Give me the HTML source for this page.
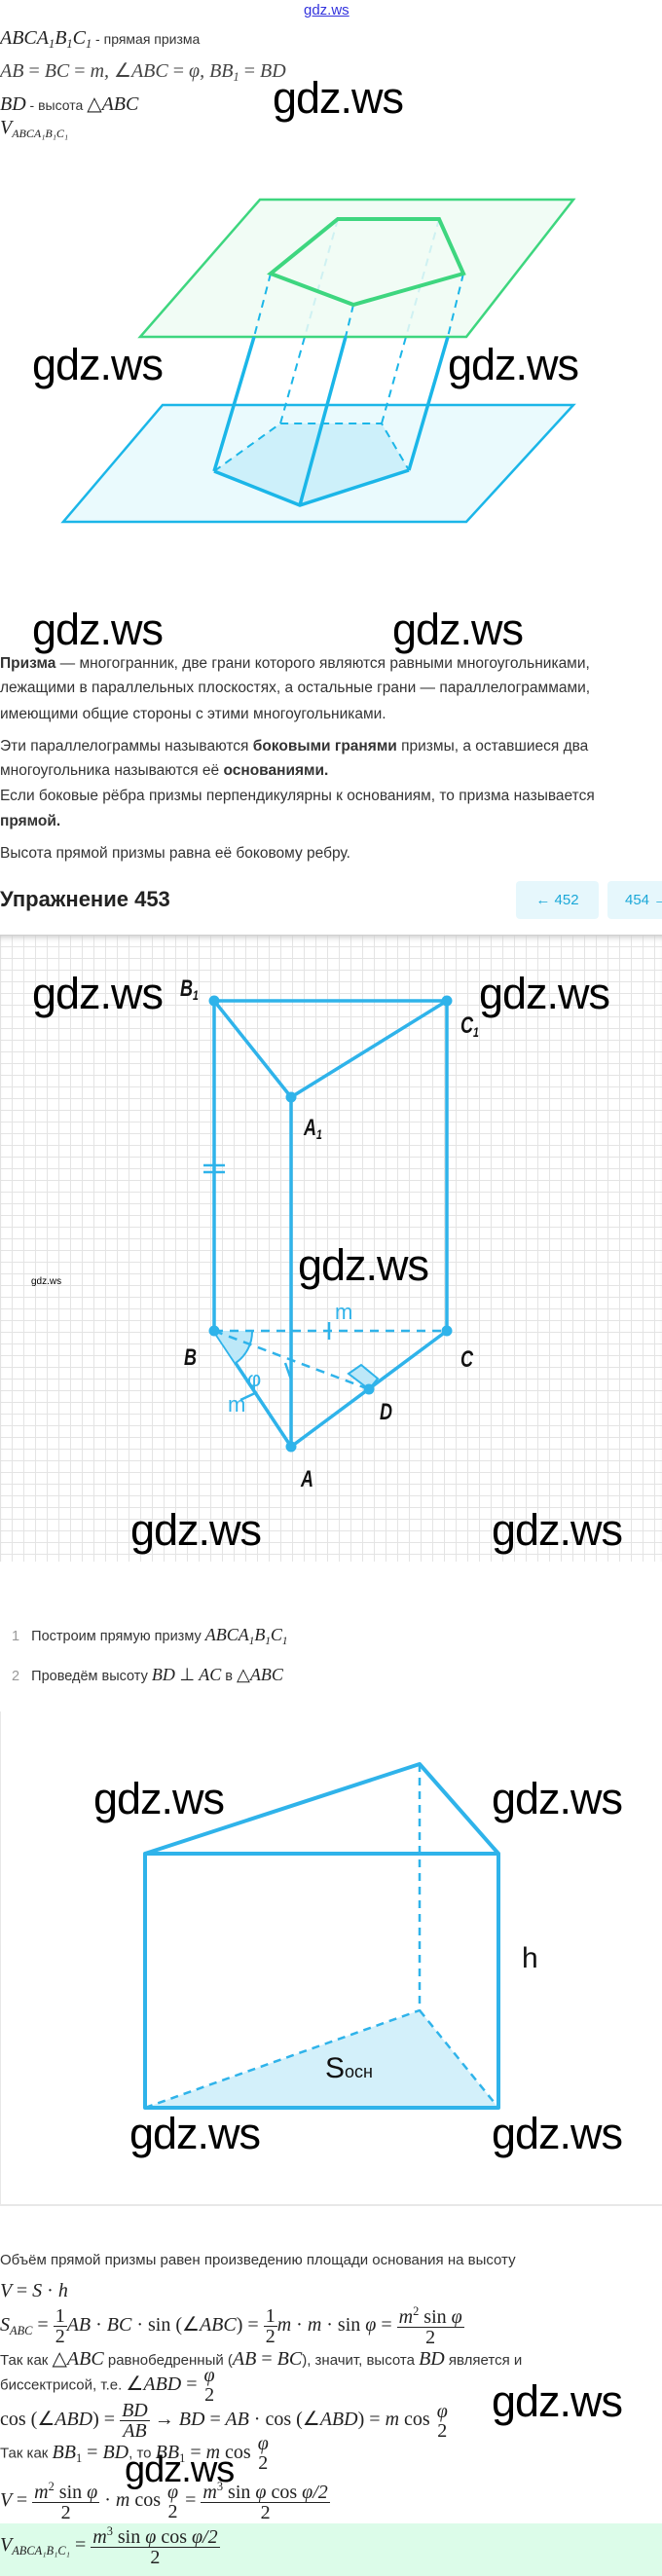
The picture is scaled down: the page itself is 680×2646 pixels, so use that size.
<!DOCTYPE html>
<html><head><meta charset="utf-8">
<style>
*{margin:0;padding:0;box-sizing:border-box}
body{width:680px;height:2646px;position:relative;background:#fff;overflow:hidden;font-family:"Liberation Sans","DejaVu Sans",sans-serif;color:#333}
.a{position:absolute;white-space:nowrap}
.m{font-family:"Liberation Serif",serif;font-style:italic;font-size:20px;color:#222}
.r{font-style:normal}
.t{font-size:15.5px;color:#333}
.w{position:absolute;font-family:"Liberation Sans",sans-serif;font-size:45px;color:#000;line-height:1;white-space:nowrap;letter-spacing:-1px}
sub{font-size:62%;vertical-align:-4px}
sup{font-size:62%;vertical-align:8px}
.f{display:inline-block;vertical-align:middle;text-align:center;line-height:1}
.f>span{display:block;padding:0 2px}
.f>span:first-child{border-bottom:1px solid #222}
.lbl{position:absolute;font-family:"Liberation Sans",sans-serif;font-style:italic;font-weight:bold;font-size:24px;color:#111;transform:scaleX(0.75);transform-origin:left}
</style></head><body>

<div class="a" style="left:312px;top:2px;font-size:15px;color:#3333dd;text-decoration:underline">gdz.ws</div>

<div class="a" style="left:0;top:28px"><span class="m">ABCA<sub>1</sub>B<sub>1</sub>C<sub>1</sub></span><span class="t" style="font-size:14px"> - прямая призма</span></div>
<div class="a m" style="left:0;top:60px;color:#444">AB <span class="r">=</span> BC <span class="r">=</span> m, <span class="r">∠</span>ABC <span class="r">=</span> φ, BB<sub>1</sub> <span class="r">=</span> BD</div>
<div class="a" style="left:0;top:94px"><span class="m">BD</span><span class="t" style="font-size:14px"> - высота </span><span class="m"><span class="r">△</span>ABC</span></div>
<div class="a m" style="left:0;top:120px">V<sub style="font-size:12px">ABCA₁B₁C₁</sub></div>
<div class="w" style="left:280px;top:78px">gdz.ws</div>

<svg class="a" style="left:0;top:0" width="680" height="560">
<polygon points="167,416 589,416 479,536 65,536" fill="#eafafd" stroke="#1bb6e8" stroke-width="2.5"/>
<polygon points="220,484 308,519 420,483 392,435 288,435" fill="#cdf0fa"/>
<g stroke="#1bb6e8" stroke-width="2" stroke-dasharray="8,6" fill="none">
<polyline points="220,484 288,435 392,435 420,483"/>
<line x1="288" y1="435" x2="347" y2="225"/>
<line x1="392" y1="435" x2="451" y2="225"/>
</g>
<polygon points="267,205 589,205 479,346 144,346" fill="#effcf3" fill-opacity="0.85" stroke="#3ed67f" stroke-width="2.5"/>
<g stroke="#1bb6e8" stroke-width="2" stroke-dasharray="8,6">
<line x1="278" y1="281" x2="261" y2="346"/>
<line x1="363" y1="313" x2="355" y2="346"/>
<line x1="476" y1="281" x2="460" y2="346"/>
</g>
<g stroke="#1bb6e8" stroke-width="3.5" fill="none">
<line x1="261" y1="346" x2="220" y2="484"/>
<line x1="355" y1="346" x2="308" y2="519"/>
<line x1="460" y1="346" x2="420" y2="483"/>
<polyline points="220,484 308,519 420,483"/>
</g>
<polygon points="347,225 451,225 476,281 363,313 278,281" fill="none" stroke="#3ed67f" stroke-width="4"/>
</svg>
<div class="w" style="left:33px;top:352px">gdz.ws</div>
<div class="w" style="left:460px;top:352px">gdz.ws</div>
<div class="w" style="left:33px;top:624px">gdz.ws</div>
<div class="w" style="left:403px;top:624px">gdz.ws</div>

<div class="a t" style="left:0;top:673px"><b>Призма</b> — многогранник, две грани которого являются равными многоугольниками,</div>
<div class="a t" style="left:0;top:698px">лежащими в параллельных плоскостях, а остальные грани — параллелограммами,</div>
<div class="a t" style="left:0;top:725px">имеющими общие стороны с этими многоугольниками.</div>
<div class="a t" style="left:0;top:758px">Эти параллелограммы называются <b>боковыми гранями</b> призмы, а оставшиеся два</div>
<div class="a t" style="left:0;top:783px">многоугольника называются её <b>основаниями.</b></div>
<div class="a t" style="left:0;top:809px">Если боковые рёбра призмы перпендикулярны к основаниям, то призма называется</div>
<div class="a t" style="left:0;top:835px"><b>прямой.</b></div>
<div class="a t" style="left:0;top:868px">Высота прямой призмы равна её боковому ребру.</div>

<div class="a" style="left:0;top:911px;font-size:22px;font-weight:bold;color:#222">Упражнение 453</div>
<div class="a" style="left:530px;top:905px;width:85px;height:39px;background:#e6f7fc;border-radius:4px;color:#1ba8d8;font-size:15px;line-height:39px;text-align:center">← 452</div>
<div class="a" style="left:624px;top:905px;width:70px;height:39px;background:#e6f7fc;border-radius:4px;color:#1ba8d8;font-size:15px;line-height:39px;padding-left:18px">454 →</div>

<div class="a" style="left:0;top:960px;width:680px;height:644px;background-color:#fff;background-image:linear-gradient(#e4e4e4 1px,transparent 1px),linear-gradient(90deg,#e4e4e4 1px,transparent 1px);background-size:12px 12px;box-shadow:inset 0 6px 6px -3px #ccc"></div>
<svg class="a" style="left:0;top:960px" width="680" height="644">
<g stroke="#2fb3ea" stroke-width="3.5" fill="none" stroke-linejoin="round">
<polyline points="220,68 459,68 299,167 220,68"/>
<line x1="220" y1="68" x2="220" y2="407"/>
<line x1="459" y1="68" x2="459" y2="407"/>
<line x1="299" y1="167" x2="299" y2="526"/>
<polyline points="220,407 299,526 459,407"/>
</g>
<path d="M220,407 L259,407 A39,39 0 0 1 242,440 Z" fill="#bde8f8"/>
<path d="M259,407 A39,39 0 0 1 242,440" stroke="#2fb3ea" stroke-width="2" fill="none"/>
<polygon points="358,451 371,442 388,456 379,467" fill="#bde8f8" stroke="#2fb3ea" stroke-width="2"/>
<g stroke="#2fb3ea" stroke-width="2.5" stroke-dasharray="9,7">
<line x1="220" y1="407" x2="459" y2="407"/>
<line x1="220" y1="407" x2="379" y2="467"/>
</g>
<g stroke="#2fb3ea" stroke-width="2.5">
<line x1="338" y1="398" x2="338" y2="416"/>
<line x1="209" y1="237" x2="231" y2="237"/><line x1="209" y1="244" x2="231" y2="244"/>
<line x1="247" y1="478" x2="264" y2="470"/>
<line x1="293" y1="440" x2="299" y2="457"/>
</g>
<g fill="#2fb3ea"><circle cx="220" cy="68" r="5.5"/><circle cx="459" cy="68" r="5.5"/><circle cx="299" cy="167" r="5.5"/><circle cx="220" cy="407" r="5.5"/><circle cx="459" cy="407" r="5.5"/><circle cx="299" cy="526" r="5.5"/><circle cx="379" cy="467" r="5.5"/></g>
</svg>
<div class="lbl" style="left:185px;top:1002px">B<sub style="font-size:14px">1</sub></div>
<div class="lbl" style="left:473px;top:1040px">C<sub style="font-size:14px">1</sub></div>
<div class="lbl" style="left:312px;top:1145px">A<sub style="font-size:14px">1</sub></div>
<div class="lbl" style="left:189px;top:1381px">B</div>
<div class="lbl" style="left:473px;top:1383px">C</div>
<div class="lbl" style="left:390px;top:1437px">D</div>
<div class="lbl" style="left:309px;top:1506px">A</div>
<div class="a" style="left:344px;top:1335px;font-size:22px;color:#2fb3ea">m</div>
<div class="a" style="left:234px;top:1430px;font-size:22px;color:#2fb3ea">m</div>
<div class="a" style="left:254px;top:1404px;font-size:22px;color:#2fb3ea">φ</div>
<div class="w" style="left:33px;top:998px">gdz.ws</div>
<div class="w" style="left:492px;top:998px">gdz.ws</div>
<div class="w" style="left:306px;top:1277px">gdz.ws</div>
<div class="a" style="left:32px;top:1311px;font-size:10px;color:#000">gdz.ws</div>
<div class="w" style="left:134px;top:1549px">gdz.ws</div>
<div class="w" style="left:505px;top:1549px">gdz.ws</div>

<div class="a t" style="left:12px;top:1669px;font-size:14.5px"><span style="color:#999">1</span>&nbsp;&nbsp; Построим прямую призму <span class="m" style="font-size:18px">ABCA<sub>1</sub>B<sub>1</sub>C<sub>1</sub></span></div>
<div class="a t" style="left:12px;top:1710px;font-size:14.5px"><span style="color:#999">2</span>&nbsp;&nbsp; Проведём высоту <span class="m" style="font-size:18px">BD <span class="r">⊥</span> AC</span> в <span class="m" style="font-size:18px"><span class="r">△</span>ABC</span></div>
<div class="a" style="left:0;top:1756px;width:680px;height:3px;background:#fff"></div>
<div class="a" style="left:0;top:1758px;width:680px;height:508px;border-left:1px solid #e8e8e8;border-bottom:2px solid #e8e8e8;background:#fff"></div>
<svg class="a" style="left:0;top:1758px" width="680" height="506">
<polygon points="149,407 512,407 431,307" fill="#d3f0fa"/>
<g stroke="#2fb3ea" stroke-width="2.5" stroke-dasharray="8,6">
<line x1="431" y1="54" x2="431" y2="307"/>
<line x1="149" y1="407" x2="431" y2="307"/>
<line x1="431" y1="307" x2="512" y2="407"/>
</g>
<g stroke="#2fb3ea" stroke-width="4" fill="none" stroke-linejoin="round">
<polyline points="149,146 431,54 512,146"/>
<rect x="149" y="146" width="363" height="261"/>
</g>
</svg>
<div class="a" style="left:536px;top:1995px;font-size:30px;color:#111">h</div>
<div class="a" style="left:334px;top:2108px;font-size:30px;color:#111">S<span style="font-size:18px">осн</span></div>
<div class="w" style="left:96px;top:1825px">gdz.ws</div>
<div class="w" style="left:505px;top:1825px">gdz.ws</div>
<div class="w" style="left:133px;top:2169px">gdz.ws</div>
<div class="w" style="left:505px;top:2169px">gdz.ws</div>

<div class="a t" style="left:0;top:2313px;font-size:15px">Объём прямой призмы равен произведению площади основания на высоту</div>
<div class="a m" style="left:0;top:2342px">V <span class="r">=</span> S <span class="r">·</span> h</div>
<div class="a m" style="left:0;top:2368px">S<sub>ABC</sub> <span class="r">=</span> <span class="f r"><span>1</span><span>2</span></span>AB <span class="r">·</span> BC <span class="r">· sin (∠</span>ABC<span class="r">) =</span> <span class="f r"><span>1</span><span>2</span></span>m <span class="r">·</span> m <span class="r">· sin</span> φ <span class="r">=</span> <span class="f"><span>m<sup class="r">2</sup> <span class="r">sin</span> φ</span><span class="r">2</span></span></div>
<div class="a" style="left:0;top:2410px"><span class="t" style="font-size:15px">Так как </span><span class="m"><span class="r">△</span>ABC</span><span class="t" style="font-size:15px"> равнобедренный (</span><span class="m">AB <span class="r">=</span> BC</span><span class="t" style="font-size:15px">), значит, высота </span><span class="m">BD</span><span class="t" style="font-size:15px"> является и</span></div>
<div class="a" style="left:0;top:2430px"><span class="t" style="font-size:15px">биссектрисой, т.е. </span><span class="m"><span class="r">∠</span>ABD <span class="r">=</span> <span class="f"><span style="border:0">φ</span><span class="r" style="border:0">2</span></span></span></div>
<div class="a m" style="left:0;top:2466px"><span class="r">cos (∠</span>ABD<span class="r">) =</span> <span class="f"><span>BD</span><span>AB</span></span> <span class="r">→</span> BD <span class="r">=</span> AB <span class="r">· cos (∠</span>ABD<span class="r">) =</span> m <span class="r">cos</span> <span class="f"><span style="border:0">φ</span><span class="r" style="border:0">2</span></span></div>
<div class="w" style="left:505px;top:2444px">gdz.ws</div>
<div class="a" style="left:0;top:2500px"><span class="t" style="font-size:15px">Так как </span><span class="m">BB<sub class="r">1</sub> <span class="r">=</span> BD</span><span class="t" style="font-size:15px">, то </span><span class="m">BB<sub class="r">1</sub> <span class="r">=</span> m <span class="r">cos</span> <span class="f"><span style="border:0">φ</span><span class="r" style="border:0">2</span></span></span></div>
<div class="a m" style="left:0;top:2548px">V <span class="r">=</span> <span class="f"><span>m<sup class="r">2</sup> <span class="r">sin</span> φ</span><span class="r">2</span></span> <span class="r">·</span> m <span class="r">cos</span> <span class="f"><span style="border:0">φ</span><span class="r" style="border:0">2</span></span> <span class="r">=</span> <span class="f"><span>m<sup class="r">3</sup> <span class="r">sin</span> φ <span class="r">cos</span> φ/2</span><span class="r">2</span></span></div>
<div class="w" style="left:128px;top:2518px;font-size:38px">gdz.ws</div>
<div class="a" style="left:0;top:2592px;width:680px;height:54px;background:#dcfce9"></div>
<div class="a m" style="left:0;top:2594px">V<sub>ABCA₁B₁C₁</sub> <span class="r">=</span> <span class="f"><span>m<sup class="r">3</sup> <span class="r">sin</span> φ <span class="r">cos</span> φ/2</span><span class="r">2</span></span></div>
</body></html>
